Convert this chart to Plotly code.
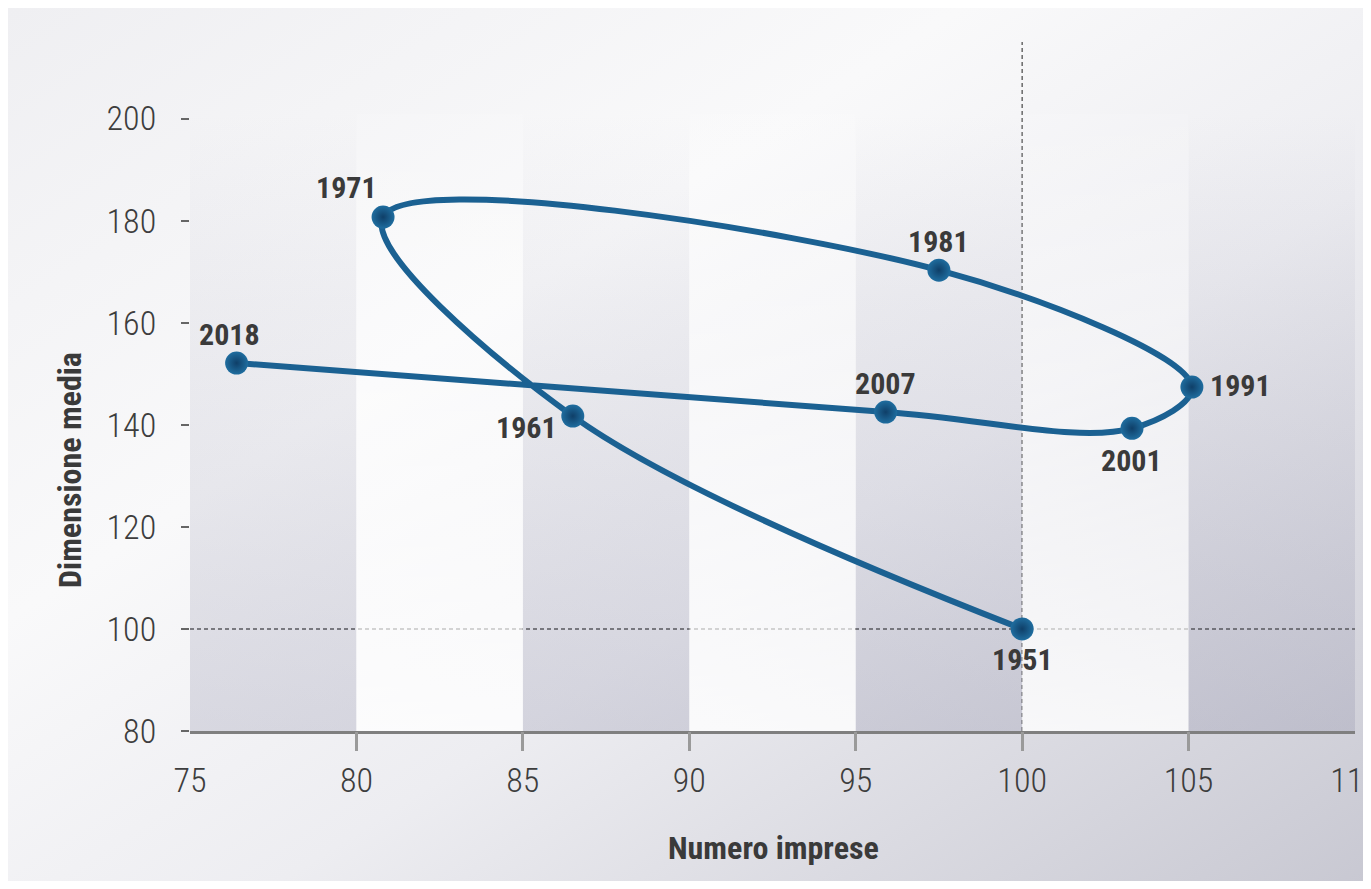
import base64
import plotly.graph_objects as go

# ---------------- data ----------------
years = ["1951", "1961", "1971", "1981", "1991", "2001", "2007", "2018"]
numero_imprese = [100.0, 86.5, 80.8, 97.5, 105.1, 103.3, 95.9, 76.4]
dimensione_media = [100.0, 141.7, 180.7, 170.3, 147.4, 139.3, 142.5, 152.1]

x_tick_labels = [75, 80, 85, 90, 95, 100, 105, 110]
x_tick_marks = [80, 85, 90, 95, 100, 105]
y_tick_labels = [80, 100, 120, 140, 160, 180, 200]
grey_band_starts = [75, 85, 95, 105]
white_band_starts = [80, 90, 100]
reference_x = 100
reference_y = 100

# ---------------- style ----------------
W, H = 1363, 873
ML, MR, MT, MB = 182, 16, 34, 150
PW, PH = W - ML - MR, H - MT - MB
X_RANGE = [75, 110]
Y_RANGE = [80, 215]
BAND_TOP = 201
BAND_W = 5

LINE_COLOR = "#1b6192"
TEXT_DARK = "#3a3a3a"
COND = "Roboto Condensed, Liberation Sans Narrow, Roboto, sans-serif"
TICK_FONT = dict(family=COND, size=34, color="#3d3d3d", weight=300)

# label offsets (px): dx right, dy down
label_offsets = {
    "1951": (0, 31), "1961": (-46, 11), "1971": (-37, -30), "1981": (0, -29),
    "1991": (49, -2), "2001": (0, 32), "2007": (0, -29), "2018": (-7, -29),
}


def svg_uri(svg):
    return "data:image/svg+xml;base64," + base64.b64encode(svg.encode()).decode()


bg_svg = (
    '<svg xmlns="http://www.w3.org/2000/svg" width="100" height="100" viewBox="0 0 100 100" preserveAspectRatio="none">'
    '<defs><linearGradient id="g" x1="0" y1="0" x2="1" y2="1">'
    '<stop offset="0" stop-color="#efeff2"/><stop offset="0.35" stop-color="#f9f9fa"/>'
    '<stop offset="0.6" stop-color="#ededf1"/><stop offset="1" stop-color="#c8c8d2"/>'
    '</linearGradient></defs><rect width="100" height="100" fill="url(#g)"/></svg>'
)
grey_band_svg = (
    '<svg xmlns="http://www.w3.org/2000/svg" width="100" height="100" viewBox="0 0 100 100" preserveAspectRatio="none">'
    '<defs><linearGradient id="b" x1="0" y1="0" x2="0" y2="1">'
    '<stop offset="0" stop-color="#8a8aa5" stop-opacity="0.0"/>'
    '<stop offset="0.3" stop-color="#8a8aa5" stop-opacity="0.09"/>'
    '<stop offset="1" stop-color="#8a8aa5" stop-opacity="0.26"/>'
    '</linearGradient></defs><rect width="100" height="100" fill="url(#b)"/></svg>'
)
white_band_svg = (
    '<svg xmlns="http://www.w3.org/2000/svg" width="100" height="100" viewBox="0 0 100 100" preserveAspectRatio="none">'
    '<defs><linearGradient id="w" x1="0" y1="0" x2="0" y2="1">'
    '<stop offset="0" stop-color="#ffffff" stop-opacity="0.1"/>'
    '<stop offset="1" stop-color="#ffffff" stop-opacity="0.8"/>'
    '</linearGradient></defs><rect width="100" height="100" fill="url(#w)"/></svg>'
)

images = [
    dict(source=svg_uri(bg_svg), xref="paper", yref="paper",
         x=-ML / PW, y=1 + MT / PH, sizex=W / PW, sizey=H / PH,
         sizing="stretch", xanchor="left", yanchor="top", layer="below")
]
for b in grey_band_starts:
    images.append(dict(source=svg_uri(grey_band_svg), xref="x", yref="y", x=b, y=BAND_TOP,
                       sizex=BAND_W, sizey=BAND_TOP - Y_RANGE[0], sizing="stretch",
                       xanchor="left", yanchor="top", layer="below"))
for b in white_band_starts:
    images.append(dict(source=svg_uri(white_band_svg), xref="x", yref="y", x=b, y=BAND_TOP,
                       sizex=BAND_W, sizey=BAND_TOP - Y_RANGE[0], sizing="stretch",
                       xanchor="left", yanchor="top", layer="below"))

fig = go.Figure()
fig.add_trace(go.Scatter(
    x=numero_imprese, y=dimensione_media, mode="lines",
    line=dict(color=LINE_COLOR, width=6, shape="spline", smoothing=1.0),
    hoverinfo="skip", showlegend=False,
))
fig.add_trace(go.Scatter(
    x=numero_imprese, y=dimensione_media, mode="markers",
    marker=dict(size=23, color="#1f6d9f", line=dict(width=0),
                gradient=dict(type="radial", color="#0f3f68")),
    text=years, hoverinfo="text", showlegend=False,
))
# tick marks only (overlay axis)
fig.add_trace(go.Scatter(x=[X_RANGE[0]], y=[Y_RANGE[0]], xaxis="x2", mode="markers",
                         marker=dict(opacity=0), hoverinfo="skip", showlegend=False))

annotations = []
for yr, xv, yv in zip(years, numero_imprese, dimensione_media):
    dx, dy = label_offsets[yr]
    annotations.append(dict(x=xv, y=yv, xref="x", yref="y", text=yr, showarrow=False,
                            xanchor="center", yanchor="middle", xshift=dx, yshift=-dy,
                            font=dict(family=COND, size=30, color=TEXT_DARK, weight=700)))
annotations.append(dict(x=(765 - ML) / PW, y=(MT + PH - 840) / PH, xref="paper", yref="paper",
                        text="Numero imprese", showarrow=False, xanchor="center", yanchor="middle",
                        font=dict(family=COND, size=32, color=TEXT_DARK, weight=700)))
annotations.append(dict(x=(62 - ML) / PW, y=(MT + PH - 462) / PH, xref="paper", yref="paper",
                        text="Dimensione media", showarrow=False, textangle=-90,
                        xanchor="center", yanchor="middle",
                        font=dict(family=COND, size=32, color=TEXT_DARK, weight=700)))

shapes = [
    dict(type="line", xref="x", yref="paper", x0=reference_x, x1=reference_x, y0=0, y1=1,
         line=dict(color="#444444", width=1.2, dash="4px,3px"), layer="between"),
    dict(type="line", xref="paper", yref="y", x0=0, x1=1, y0=reference_y, y1=reference_y,
         line=dict(color="#4a4a4a", width=1.5, dash="4px,3px"), layer="between"),
]

fig.update_layout(
    width=W, height=H,
    margin=dict(l=ML, r=MR, t=MT, b=MB, autoexpand=False),
    paper_bgcolor="#ffffff", plot_bgcolor="rgba(0,0,0,0)",
    images=images, shapes=shapes, annotations=annotations,
    xaxis=dict(range=X_RANGE, tickvals=x_tick_labels, showgrid=False, zeroline=False,
               showline=True, linecolor="#7f7f7f", linewidth=3, automargin=False,
               ticks="outside", ticklen=9, tickcolor="rgba(0,0,0,0)", ticklabelstandoff=8,
               ticklabeloverflow="allow", tickfont=TICK_FONT),
    xaxis2=dict(range=X_RANGE, overlaying="x", anchor="y", side="bottom", matches="x",
                tickvals=x_tick_marks, showticklabels=False, showgrid=False, zeroline=False,
                showline=False, ticks="outside", ticklen=19, tickwidth=3, tickcolor="#9a9a9a",
                automargin=False),
    yaxis=dict(range=Y_RANGE, tickvals=y_tick_labels, showgrid=False, zeroline=False,
               showline=False, ticks="outside", ticklen=8, tickwidth=2, tickcolor="#666666",
               ticklabelstandoff=18, tickfont=TICK_FONT, automargin=False),
    showlegend=False,
)

fig.write_html("out.html")
